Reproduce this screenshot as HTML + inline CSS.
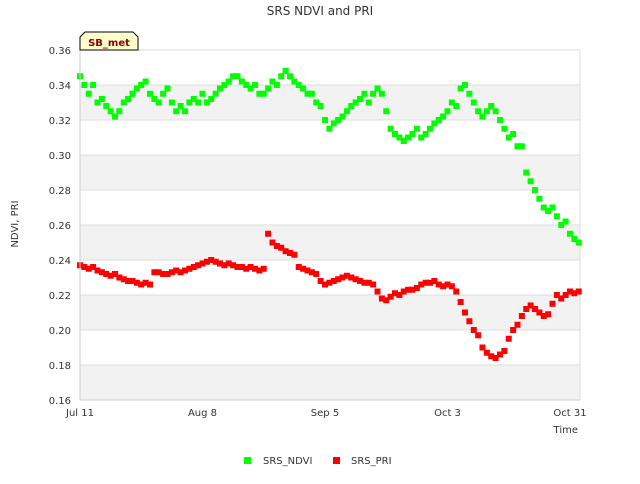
<!DOCTYPE html>
<html><head><meta charset="utf-8"><style>
body{margin:0;background:#fff;font-family:"DejaVu Sans","Liberation Sans",sans-serif}
</style></head><body>
<svg width="640" height="480" viewBox="0 0 640 480" xmlns="http://www.w3.org/2000/svg" font-family="DejaVu Sans, Liberation Sans, sans-serif">
<text x="320" y="15" text-anchor="middle" font-size="12" fill="#333">SRS NDVI and PRI</text>
<g id="bands"></g>
<g id="grid"></g>
<g id="yt" font-size="10" fill="#333"></g>
<g id="xt" font-size="10" fill="#333"></g>
<g id="pts"></g>
<line x1="80" y1="50" x2="80" y2="400" stroke="#ccc"/>
<line x1="80" y1="400" x2="580" y2="400" stroke="#ccc"/>
<text x="18" y="224" transform="rotate(-90 18 224)" text-anchor="middle" font-size="10" fill="#333">NDVI, PRI</text>
<text x="578" y="433" text-anchor="end" font-size="10" fill="#333">Time</text>
<g>
<path d="M80,50 L80,37 L85,32 L133,32 L138,37 L138,50 Z" fill="#ffffcc" stroke="#000" stroke-width="1"/>
<text x="109" y="46" text-anchor="middle" font-size="10" font-weight="bold" fill="#8b0000">SB_met</text>
</g>
<g><rect x="244" y="457" width="7" height="7" fill="#00ff00"/><text x="263" y="464" font-size="10" fill="#333">SRS_NDVI</text></g>
<g><rect x="333" y="457" width="7" height="7" fill="#ff0000"/><text x="351" y="464" font-size="10" fill="#333">SRS_PRI</text></g>
</svg>
<script>
const yTicks=[0.16,0.18,0.20,0.22,0.24,0.26,0.28,0.30,0.32,0.34,0.36];
const xTickDays=[0,28,56,84,112];
const xTickLabels=["Jul 11","Aug 8","Sep 5","Oct 3","Oct 31"];
const ndvi=[.345,.34,.335,.34,.33,.332,.328,.325,.322,.325,
.33,.332,.335,.338,.34,.342,.335,.332,.33,.335,
.338,.33,.325,.328,.325,.33,.332,.33,.335,.33,
.332,.335,.338,.34,.342,.345,.345,.342,.34,.338,
.34,.335,.335,.338,.342,.34,.345,.348,.345,.342,
.34,.338,.335,.335,.33,.328,.32,.315,.318,.32,
.322,.325,.328,.33,.332,.335,.33,.335,.338,.335,
.325,.315,.312,.31,.308,.31,.312,.315,.31,.312,
.315,.318,.32,.322,.325,.33,.328,.338,.34,.335,
.33,.325,.322,.325,.328,.325,.32,.315,.31,.312,
.305,.305,.29,.285,.28,.275,.27,.268,.27,.265,
.26,.262,.255,.252,.25];
const pri=[.237,.236,.235,.236,.234,.233,.232,.231,.232,.230,
.229,.228,.228,.227,.226,.227,.226,.233,.233,.232,
.232,.233,.234,.233,.234,.235,.236,.237,.238,.239,
.24,.239,.238,.237,.238,.237,.236,.236,.235,.236,
.235,.234,.235,.255,.25,.248,.247,.245,.244,.243,
.236,.235,.234,.233,.232,.228,.226,.227,.228,.229,
.23,.231,.23,.229,.228,.227,.227,.226,.222,.218,
.217,.219,.221,.22,.222,.223,.223,.224,.226,.227,
.227,.228,.226,.225,.226,.225,.222,.216,.21,.205,
.2,.197,.19,.187,.185,.184,.186,.188,.195,.2,
.203,.208,.212,.214,.212,.21,.208,.209,.215,.22,
.218,.22,.222,.221,.222];
const NS="http://www.w3.org/2000/svg";
function xS(d){return 80+d*4.375;}
function yS(v){return 400-(v-0.16)/0.20*350;}
function mk(tag,attrs,parent){const e=document.createElementNS(NS,tag);for(const k in attrs)e.setAttribute(k,attrs[k]);parent.appendChild(e);return e;}
const bands=document.getElementById('bands'),grid=document.getElementById('grid'),yt=document.getElementById('yt'),xt=document.getElementById('xt'),pts=document.getElementById('pts');
for(let i=0;i<yTicks.length-1;i++){
  if(i%2===0){const r=mk('rect',{x:80,y:yS(yTicks[i+1]),width:500,height:yS(yTicks[i])-yS(yTicks[i+1]),fill:'#f2f2f2'},bands);
  
  }
}
yTicks.forEach(v=>{
  const l=mk('line',{x1:80,x2:580,y1:yS(v),y2:yS(v),stroke:'#ddd'},grid);
  
  
  const t=mk('text',{x:71,y:yS(v)+4,'text-anchor':'end'},yt);t.textContent=v.toFixed(2);
  
  
});
mk('line',{x1:580,x2:580,y1:50,y2:400,stroke:'#ddd'},grid);
xTickDays.forEach((d,i)=>{
  const t=mk('text',{x:xS(d),y:416,'text-anchor':'middle'},xt);t.textContent=xTickLabels[i];
  
  
});
function draw(arr,color,name){
  arr.forEach((v,i)=>{
    const r=mk('rect',{x:xS(i)-3,y:yS(v)-3,width:6,height:6,fill:color},pts);
    
    
  });
}
draw(ndvi,'#00ff00','ndvi-point');
draw(pri,'#ff0000','pri-point');
</script>
</body></html>
